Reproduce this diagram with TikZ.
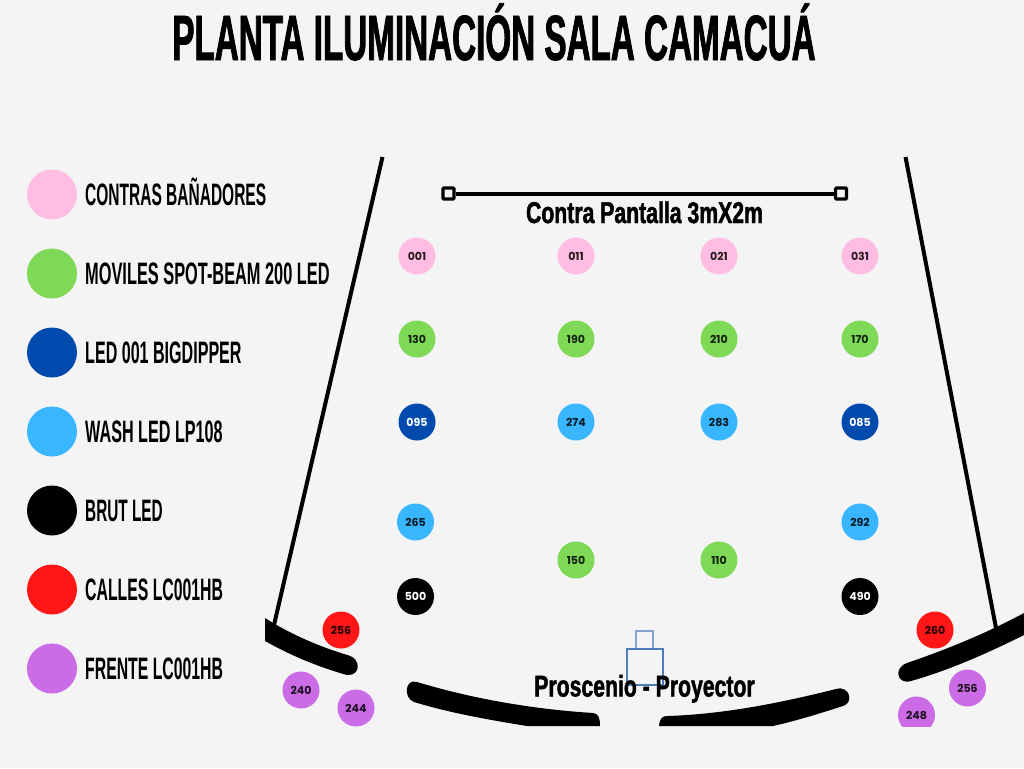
\documentclass[tikz,border=0pt]{standalone}
\usepackage{graphicx}
\usepackage{fontspec}
\setmainfont{Liberation Sans}
\newfontfamily\titlefont[FakeStretch=0.519,FakeBold=1.2]{Liberation Sans Bold}
\newfontfamily\legendfont[FakeStretch=0.495]{Liberation Sans Bold}
\newfontfamily\notefont[FakeStretch=0.707,FakeBold=1.5]{Liberation Sans Bold}
\newfontfamily\numfont{Poppins}
\definecolor{bgc}{HTML}{F4F4F4}
\definecolor{pinkc}{HTML}{FFBDE4}
\definecolor{greenc}{HTML}{7ED957}
\definecolor{bluec}{HTML}{004AAD}
\definecolor{skyc}{HTML}{38B6FF}
\definecolor{redc}{HTML}{FF1616}
\definecolor{purplec}{HTML}{CB6CE6}
\definecolor{framec}{HTML}{4F7DBB}
\tikzset{
  lamp/.style={circle,minimum size=37pt,inner sep=0pt,fill=#1,text=black!85!#1,font=\numfont\bfseries\fontsize{11}{12}\selectfont},
  swatch/.style={circle,minimum size=50pt,inner sep=0pt,fill=#1},
  legendtext/.style={anchor=base west,inner sep=0pt,font=\legendfont\fontsize{31}{32}\selectfont},
  notetext/.style={anchor=base,inner sep=0pt,font=\notefont\fontsize{30}{32}\selectfont},
  wall/.style={line width=4pt,black},
  endbox/.style={draw=black,line width=3.2pt,fill=bgc,minimum size=11pt,inner sep=0pt,rounded corners=1pt},
  framebox/.style={draw=#1,line width=1.2pt,fill=none,inner sep=0pt}
}
\begin{document}
\begin{tikzpicture}[x=1pt,y=-1pt]
\useasboundingbox (0,0) rectangle (1024,768);
\fill[bgc] (0,0) rectangle (1024,768);
\node[anchor=base,inner sep=0pt,font=\titlefont\fontsize{64}{66}\selectfont] (title) at (494,60) {PLANTA ILUMINACIÓN SALA CAMACUÁ};
% legend
\foreach \n/\c/\y/\k/\t in {a/pinkc/194.5/1.011/CONTRAS BAÑADORES,b/greenc/273.5/1.066/MOVILES SPOT-BEAM 200 LED,c/bluec/352.5/1.048/LED 001 BIGDIPPER,d/skyc/431.5/1.054/WASH LED LP108,e/black/510.5/1.0/BRUT LED,f/redc/589.5/1.03/CALLES LC001HB,g/purplec/668.5/1.03/FRENTE LC001HB}{
  \node[swatch=\c] (sw\n) at (52,\y) {};
  \node[legendtext] (lg\n) at (85,\y+10.5) {\scalebox{\k}[1]{\t}};
}
% walls
\coordinate (wl1) at (382.5,157); \coordinate (wl2) at (274,625);
\coordinate (wr1) at (905.5,157); \coordinate (wr2) at (996,628);
\draw[wall] (wl1) -- (wl2);
\draw[wall] (wr1) -- (wr2);
% screen
\node[endbox] (s1) at (448.5,193.5) {};
\node[endbox] (s2) at (841,193.5) {};
\draw[line width=4pt] (s1) -- (s2);
\node[notetext] (screen) at (644.5,223) {Contra Pantalla 3mX2m};
% projector
\node[framebox=framec!70!white,minimum width=17pt,minimum height=18pt] (p1) at (644.5,640) {};
\node[framebox=framec,minimum width=36pt,minimum height=36pt] (p2) at (645,667) {};
% stage curves
\fill (265,618) .. controls (290,634) and (320,647) .. (349,655.5)
  .. controls (361,659) and (361,676) .. (347,675)
  .. controls (318,667) and (290,655) .. (265,641) -- cycle;
\fill (417,682) .. controls (470,698) and (530,709) .. (593,713)
  .. controls (598,713.5) and (600,717) .. (600,726) -- (527,726)
  .. controls (490,720) and (450,713) .. (414,702)
  .. controls (403,698) and (405,678) .. (417,682) -- cycle;
\fill (659,726) .. controls (660,718) and (662,716) .. (668,716)
  .. controls (725,714) and (780,703) .. (836,689)
  .. controls (850,685) and (854,703) .. (843,706)
  .. controls (815,715) and (795,721) .. (773,726) -- cycle;
\fill (1024,613) .. controls (985,634) and (945,650) .. (907,663)
  .. controls (893,668) and (897,685) .. (911,681)
  .. controls (950,670) and (990,652) .. (1024,635) -- cycle;
\node[notetext] (pros) at (644.5,696.5) {Proscenio - Proyector};
% lamps
\foreach \n/\x/\y/\c in {
 001/417/256/pinkc,011/576/256/pinkc,021/719/256/pinkc,031/860/256/pinkc,
 130/417/339/greenc,190/576/339/greenc,210/719/339/greenc,170/860/339/greenc,
 274/576/422/skyc,283/719/422/skyc,
 265/415.5/522/skyc,292/860/522/skyc,150/576/560/greenc,110/719/560/greenc,
 256/341/630/redc,260/935/630/redc,240/301/690/purplec,244/356/708/purplec,256/967.5/688/purplec}{
  \node[lamp=\c] (L\n-\x) at (\x,\y) {\n};
}
\node[lamp=black,text=white] (L500) at (415.5,596.5) {500};
\node[lamp=black,text=white] (L490) at (860,596.5) {490};
\node[lamp=bluec,text=white] (L095) at (417,422) {095};
\node[lamp=bluec,text=white] (L085) at (860,422) {085};
\begin{scope}
\clip (890,690) rectangle (945,726);
\node[lamp=purplec] (L248) at (916.5,715) {248};
\end{scope}
\end{tikzpicture}
\end{document}
